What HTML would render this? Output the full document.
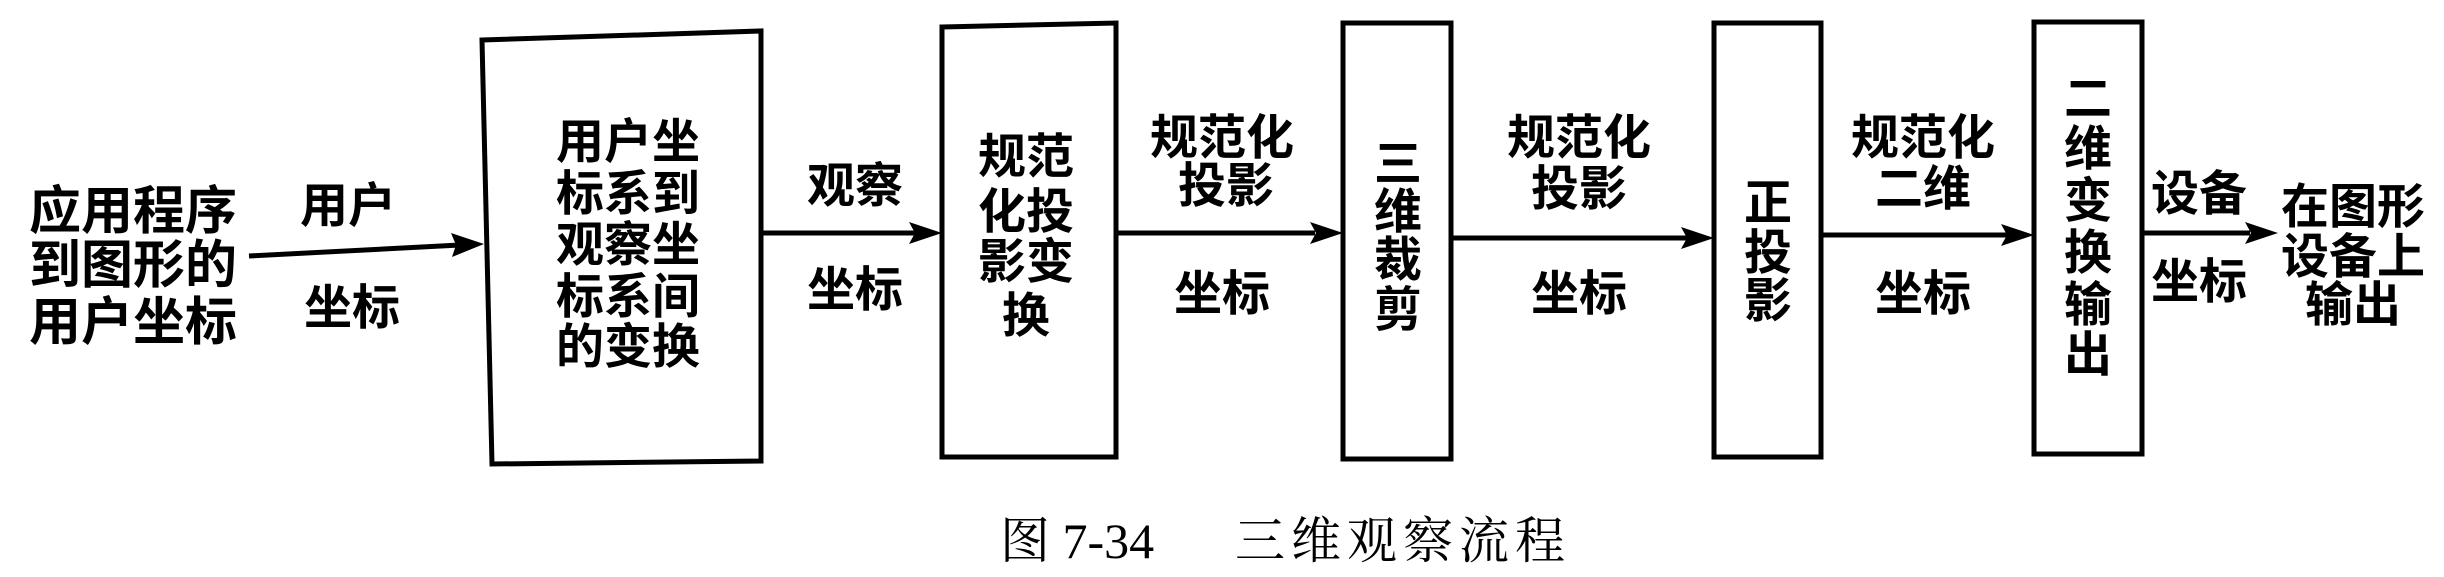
<!DOCTYPE html>
<html><head><meta charset="utf-8"><style>
html,body{margin:0;padding:0;background:#fff;}
svg{display:block;}
text{font-family:"Liberation Sans","Noto Sans CJK SC",sans-serif;font-weight:700;fill:#000;text-anchor:middle;}
.c{font-family:"Liberation Serif","Noto Serif CJK SC",serif;font-weight:400;}
</style></head><body>
<svg width="2444" height="577" viewBox="0 0 2444 577" xmlns="http://www.w3.org/2000/svg">
<g fill="none" stroke="#000" stroke-width="5" stroke-linejoin="miter">
<polygon points="482,40 761,31 761,461 492,464"/>
<polygon points="942,27 1116,23 1116,457 942,457"/>
<polygon points="1343,23 1451,23 1451,459 1343,459"/>
<polygon points="1714,23 1821,23 1821,457 1714,457"/>
<polygon points="2034,22 2142,22 2142,454 2034,454"/>
</g>
<g stroke="#000" stroke-width="5">
<line x1="249" y1="256" x2="460" y2="245"/>
<line x1="763" y1="233" x2="915" y2="233"/>
<line x1="1116" y1="233" x2="1315" y2="233"/>
<line x1="1451" y1="238" x2="1690" y2="238"/>
<line x1="1821" y1="235" x2="2008" y2="235"/>
<line x1="2142" y1="233" x2="2250" y2="233"/>
</g>
<g fill="#000">
<polygon points="484,244 451,233 456,245 452,257"/>
<polygon points="942,233 909,222 915,233 909,244"/>
<polygon points="1343,233 1310,222 1316,233 1310,244"/>
<polygon points="1714,238 1681,227 1687,238 1681,249"/>
<polygon points="2034,235 2001,224 2007,235 2001,246"/>
<polygon points="2278,233 2245,222 2251,233 2245,244"/>
</g>
<g font-size="52">
<text x="133" y="229">应用程序</text>
<text x="133" y="283">到图形的</text>
<text x="133" y="340">用户坐标</text>
</g>
<g font-size="48">
<text x="348" y="222">用户</text>
<text x="352" y="324">坐标</text>
<text x="628" y="158">用户坐</text>
<text x="628" y="210">标系到</text>
<text x="628" y="261">观察坐</text>
<text x="628" y="313">标系间</text>
<text x="628" y="363">的变换</text>
<text x="855" y="202">观察</text>
<text x="855" y="306">坐标</text>
<text x="1026" y="173">规范</text>
<text x="1026" y="228">化投</text>
<text x="1026" y="278">影变</text>
<text x="1026" y="332">换</text>
<text x="1222" y="154">规范化</text>
<text x="1226" y="202">投影</text>
<text x="1222" y="310">坐标</text>
<text x="1398" y="180">三</text>
<text x="1398" y="228">维</text>
<text x="1398" y="276">裁</text>
<text x="1398" y="326">剪</text>
<text x="1579" y="154">规范化</text>
<text x="1579" y="205">投影</text>
<text x="1579" y="310">坐标</text>
<text x="1768" y="219">正</text>
<text x="1768" y="269">投</text>
<text x="1768" y="317">影</text>
<text x="1923" y="154">规范化</text>
<text x="1923" y="205">二维</text>
<text x="1923" y="310">坐标</text>
<text x="2088" y="115">二</text>
<text x="2088" y="165">维</text>
<text x="2088" y="217">变</text>
<text x="2088" y="269">换</text>
<text x="2088" y="321">输</text>
<text x="2088" y="371">出</text>
<text x="2199" y="210">设备</text>
<text x="2199" y="298">坐标</text>
<text x="2353" y="223">在图形</text>
<text x="2353" y="273">设备上</text>
<text x="2353" y="321">输出</text>
</g>
<text class="c" font-size="50" x="1000" y="558" style="text-anchor:start">图 7-34</text>
<text class="c" font-size="50" x="1235" y="558" style="text-anchor:start;letter-spacing:6px">三维观察流程</text>
</svg>
</body></html>
